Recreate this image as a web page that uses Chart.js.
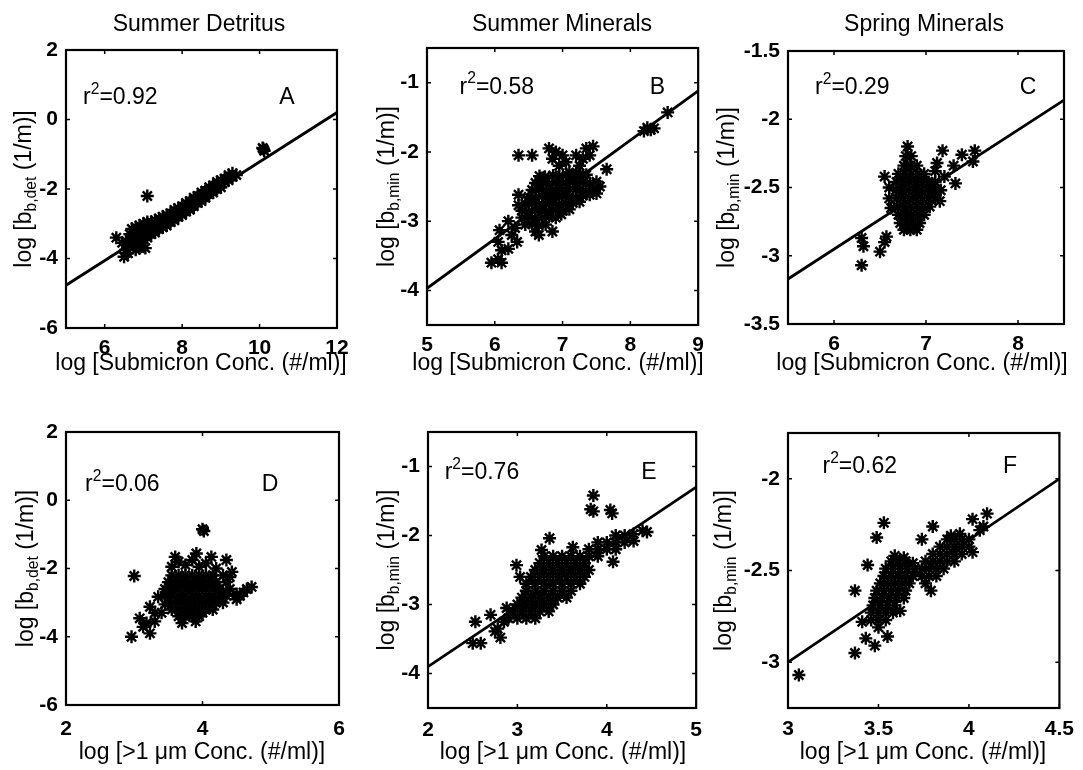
<!DOCTYPE html>
<html>
<head>
<meta charset="utf-8">
<script src="https://cdn.jsdelivr.net/npm/chart.js@4.4.1/dist/chart.umd.min.js"></script>
<style>
  body { margin: 0; background: #fff; }
  #wrap { position: relative; width: 1083px; height: 770px; background: #fff; }
  canvas { position: absolute; }
</style>
</head>
<body>
<div id="wrap">
  <canvas id="panelA" width="362" height="385" style="left:0;top:0"></canvas>
  <canvas id="panelB" width="350" height="385" style="left:362px;top:0"></canvas>
  <canvas id="panelC" width="383" height="385" style="left:700px;top:0"></canvas>
  <canvas id="panelD" width="362" height="385" style="left:0;top:385px"></canvas>
  <canvas id="panelE" width="350" height="385" style="left:362px;top:385px"></canvas>
  <canvas id="panelF" width="383" height="385" style="left:700px;top:385px"></canvas>
</div>
<script>
const FONT = '"Liberation Sans", Arial, Helvetica, sans-serif';

// column headings and axis titles
const columnTitles = ['Summer Detritus', 'Summer Minerals', 'Spring Minerals'];
const xTitleSub = 'log [Submicron Conc. (#/ml)]';
const xTitleBig = 'log [>1 \u03bcm Conc. (#/ml)]';
const ySubDet = 'b,det';
const ySubMin = 'b,min';
const r2Values = ['0.92', '0.58', '0.29', '0.06', '0.76', '0.62'];
const panelLetters = ['A', 'B', 'C', 'D', 'E', 'F'];

// tick values
const ticksAx = [6, 8, 10, 12],        ticksAy = [-6, -4, -2, 0, 2];
const ticksBx = [5, 6, 7, 8, 9],       ticksBy = [-4, -3, -2, -1];
const ticksCx = [6, 7, 8],             ticksCy = [-3.5, -3, -2.5, -2, -1.5];
const ticksDx = [2, 4, 6],             ticksDy = [-6, -4, -2, 0, 2];
const ticksEx = [2, 3, 4, 5],          ticksEy = [-4, -3, -2, -1];
const ticksFx = [3, 3.5, 4, 4.5],      ticksFy = [-3, -2.5, -2];

// summer detritus vs submicron conc.
const detSub = [
  [6.3,-3.4],[6.45,-3.55],[6.5,-3.95],[6.55,-3.75],[6.6,-3.85],[6.65,-3.3],[6.6,-3.6],[6.8,-3.75],
  [7.05,-3.7],[6.55,-3.5],[6.9,-3.7],
  [6.7,-3.15],[6.7,-3.4],[6.7,-3.6],[6.8,-3.1],[6.8,-3.3],[6.8,-3.55],[6.9,-3.05],[6.9,-3.25],
  [6.9,-3.5],[7.0,-3.0],[7.0,-3.2],[7.0,-3.45],[7.1,-2.95],[7.1,-3.15],[7.1,-3.4],[7.2,-2.95],
  [7.2,-3.1],[7.2,-3.3],[7.3,-2.9],[7.3,-3.05],[7.3,-3.25],[7.4,-2.85],[7.4,-3.0],[7.4,-3.15],
  [7.5,-2.8],[7.5,-2.95],[7.5,-3.1],[7.6,-2.75],[7.6,-2.9],[7.6,-3.05],[7.7,-2.7],[7.7,-2.85],
  [7.7,-2.95],[7.8,-2.6],[7.8,-2.75],[7.8,-2.9],[7.9,-2.55],[7.9,-2.7],[7.9,-2.8],[8.0,-2.5],
  [8.0,-2.6],[8.0,-2.75],[8.1,-2.4],[8.1,-2.55],[8.1,-2.65],[8.2,-2.35],[8.2,-2.45],[8.2,-2.6],
  [8.3,-2.25],[8.3,-2.4],[8.3,-2.5],[8.4,-2.2],[8.4,-2.3],[8.4,-2.4],[8.5,-2.1],[8.5,-2.2],
  [8.5,-2.35],[8.6,-2.05],[8.6,-2.15],[8.6,-2.25],[8.7,-1.95],[8.7,-2.05],[8.7,-2.15],[8.8,-1.9],
  [8.8,-2.0],[8.8,-2.1],[8.9,-1.8],[8.9,-1.9],[8.9,-2.0],[9.0,-1.75],[9.0,-1.85],[9.0,-1.95],
  [9.1,-1.7],[9.1,-1.8],[9.2,-1.6],[9.2,-1.75],[9.3,-1.55],[9.3,-1.65],[9.4,-1.6],
  [7.1,-2.2],[10.1,-0.85],[10.12,-0.9],[10.08,-0.82]
];
const fitDetSub = [[5, -4.77], [12, 0.2]];

// summer minerals vs submicron conc.
const minSub = [
  [6.35,-2.05],[6.55,-2.05],[6.8,-1.95],[6.85,-2.1],[6.9,-2.0],[7.0,-2.05],[6.95,-2.2],[7.05,-2.15],
  [7.1,-2.3],[7.35,-1.95],[7.45,-1.92],[7.4,-2.05],[7.3,-2.1],[7.65,-2.25],[7.2,-2.05],[7.25,-2.2],
  [8.2,-1.7],[8.25,-1.65],[8.3,-1.68],[8.35,-1.66],[8.55,-1.43],
  [5.95,-3.6],[6.05,-3.55],[6.1,-3.6],[6.1,-3.42],[6.05,-3.3],[6.07,-3.13],[6.2,-3.0],[6.25,-3.2],
  [6.2,-3.4],[6.33,-3.3],[6.35,-2.62],[6.35,-2.77],[6.3,-3.1],[6.65,-3.2],[6.85,-3.15],
  [6.66,-2.35],[6.74,-2.36],[6.86,-2.34],[6.95,-2.35],[7.06,-2.33],[7.15,-2.36],[7.26,-2.34],[7.35,-2.33],
  [6.6,-2.45],[6.71,-2.44],[6.8,-2.46],[6.9,-2.44],[7.0,-2.45],[7.1,-2.43],[7.2,-2.46],[7.3,-2.44],
  [7.4,-2.45],[7.5,-2.43],[6.55,-2.55],[6.66,-2.54],[6.75,-2.56],[6.85,-2.55],[6.94,-2.53],[7.05,-2.56],
  [7.15,-2.54],[7.25,-2.55],[7.34,-2.56],[7.45,-2.54],[7.55,-2.5],[6.5,-2.65],[6.6,-2.66],[6.7,-2.64],
  [6.81,-2.65],[6.9,-2.66],[7.0,-2.64],[7.1,-2.65],[7.2,-2.66],[7.3,-2.63],[7.4,-2.62],[6.45,-2.75],
  [6.55,-2.74],[6.65,-2.76],[6.76,-2.75],[6.85,-2.74],[6.95,-2.76],[7.05,-2.75],[7.15,-2.74],[7.25,-2.72],
  [6.4,-2.85],[6.5,-2.86],[6.6,-2.84],[6.7,-2.85],[6.8,-2.86],[6.9,-2.84],[7.0,-2.85],[7.1,-2.83],
  [6.4,-2.95],[6.5,-2.94],[6.6,-2.96],[6.7,-2.95],[6.8,-2.94],[6.9,-2.95],[6.45,-3.05],[6.55,-3.04],
  [6.65,-3.06],[6.75,-3.05],[6.6,-3.15],[6.7,-2.4],[7.2,-2.3],[7.5,-2.6],[6.98,-2.9]
];
const fitMinSub = [[5, -3.97], [9, -1.12]];

// spring minerals vs submicron conc.
const sprSub = [
  [6.3,-3.07],[6.3,-2.87],[6.32,-2.93],[6.5,-2.97],[6.55,-2.9],[6.57,-2.86],[6.55,-2.42],[6.6,-2.5],
  [6.6,-2.58],[6.62,-2.65],[6.8,-2.2],
  [7.18,-2.23],[7.39,-2.26],[7.53,-2.23],[7.51,-2.31],[7.3,-2.34],[7.12,-2.32],[7.1,-2.38],[7.32,-2.47],
  [7.15,-2.6],[7.2,-2.42],
  [6.78,-2.27],[6.84,-2.27],[6.76,-2.34],[6.83,-2.34],[6.9,-2.34],[6.7,-2.4],[6.77,-2.4],[6.84,-2.4],
  [6.91,-2.4],[6.98,-2.4],[6.68,-2.46],[6.75,-2.46],[6.82,-2.46],[6.89,-2.46],[6.96,-2.46],[7.03,-2.46],
  [7.1,-2.46],[6.67,-2.52],[6.74,-2.52],[6.81,-2.52],[6.88,-2.52],[6.95,-2.52],[7.02,-2.52],[7.09,-2.52],
  [7.16,-2.52],[6.68,-2.58],[6.75,-2.58],[6.82,-2.58],[6.89,-2.58],[6.96,-2.58],[7.03,-2.58],[7.1,-2.58],
  [6.69,-2.64],[6.76,-2.64],[6.83,-2.64],[6.9,-2.64],[6.97,-2.64],[7.04,-2.64],[6.7,-2.7],[6.77,-2.7],
  [6.84,-2.7],[6.91,-2.7],[6.98,-2.7],[6.72,-2.76],[6.79,-2.76],[6.86,-2.76],[6.93,-2.76],[6.76,-2.81],
  [6.83,-2.81],[6.9,-2.81]
];
const fitSprSub = [[5.5, -3.17], [8.5, -1.86]];

// summer detritus vs >1 um conc.
const detBig = [
  [4.0,-0.85],[4.02,-0.9],[3.0,-2.22],[2.96,-4.0],[3.13,-3.71],[3.23,-3.9],[3.08,-3.46],[3.23,-3.12],
  [3.18,-3.6],[3.3,-3.55],[3.35,-2.83],[3.4,-3.3],[3.3,-3.3],[3.45,-3.05],
  [3.6,-1.66],[3.75,-1.9],[3.91,-1.56],[3.85,-1.75],[4.13,-1.66],[4.05,-1.85],[4.35,-1.75],[4.43,-2.1],
  [4.4,-2.25],[4.72,-2.54],[4.6,-2.7],[4.65,-2.6],[4.5,-2.9],[4.55,-2.8],[3.55,-1.95],[3.65,-1.8],
  [3.95,-1.95],[4.2,-2.0],[3.7,-3.6],[3.9,-3.55],
  [3.55,-2.2],[3.65,-2.2],[3.75,-2.2],[3.85,-2.2],[3.95,-2.2],[4.05,-2.2],[4.15,-2.2],[4.3,-2.2],
  [3.5,-2.4],[3.6,-2.4],[3.7,-2.4],[3.8,-2.4],[3.9,-2.4],[4.0,-2.4],[4.1,-2.4],[4.2,-2.4],[4.35,-2.4],
  [3.45,-2.6],[3.55,-2.6],[3.65,-2.6],[3.75,-2.6],[3.85,-2.6],[3.95,-2.6],[4.05,-2.6],[4.15,-2.6],
  [4.25,-2.6],[4.4,-2.6],[3.45,-2.8],[3.55,-2.8],[3.65,-2.8],[3.75,-2.8],[3.85,-2.8],[3.95,-2.8],
  [4.05,-2.8],[4.15,-2.8],[4.25,-2.8],[4.35,-2.8],[4.5,-2.75],[3.5,-3.0],[3.6,-3.0],[3.7,-3.0],
  [3.8,-3.0],[3.9,-3.0],[4.0,-3.0],[4.1,-3.0],[4.2,-3.0],[4.3,-3.0],[3.55,-3.2],[3.65,-3.2],
  [3.75,-3.2],[3.85,-3.2],[3.95,-3.2],[4.05,-3.2],[4.15,-3.2],[3.65,-3.4],[3.75,-3.4],[3.85,-3.4],
  [3.95,-3.4],[3.6,-2.5],[3.8,-2.5],[4.0,-2.5],[4.2,-2.5],[3.7,-2.9],[3.9,-2.9],[4.1,-2.9],[3.8,-3.3],
  [4.0,-3.3],[3.5,-2.7],[4.3,-2.7]
];

// summer minerals vs >1 um conc.
const minBig = [
  [3.85,-1.42],[3.82,-1.62],[3.85,-1.65],[4.04,-1.63],[4.06,-1.68],
  [3.36,-2.04],[3.27,-2.21],[2.99,-2.43],[3.03,-2.6],[4.07,-2.38],[3.62,-2.17],
  [2.53,-3.25],[2.7,-3.15],[2.5,-3.56],[2.59,-3.56],[2.75,-3.39],[2.81,-3.48],[2.88,-3.05],[2.78,-3.35],
  [2.85,-3.25],
  [3.3,-2.3],[3.4,-2.3],[3.5,-2.3],[3.6,-2.3],[3.7,-2.3],[3.25,-2.4],[3.35,-2.4],[3.45,-2.4],
  [3.55,-2.4],[3.65,-2.4],[3.75,-2.4],[3.2,-2.5],[3.3,-2.5],[3.4,-2.5],[3.5,-2.5],[3.6,-2.5],
  [3.7,-2.5],[3.8,-2.5],[3.15,-2.6],[3.25,-2.6],[3.35,-2.6],[3.45,-2.6],[3.55,-2.6],[3.65,-2.6],
  [3.75,-2.6],[3.1,-2.7],[3.2,-2.7],[3.3,-2.7],[3.4,-2.7],[3.5,-2.7],[3.6,-2.7],[3.7,-2.7],
  [3.1,-2.8],[3.2,-2.8],[3.3,-2.8],[3.4,-2.8],[3.5,-2.8],[3.6,-2.8],[3.05,-2.9],[3.15,-2.9],
  [3.25,-2.9],[3.35,-2.9],[3.45,-2.9],[3.55,-2.9],[3.0,-3.0],[3.1,-3.0],[3.2,-3.0],[3.3,-3.0],
  [3.4,-3.0],[2.95,-3.1],[3.05,-3.1],[3.15,-3.1],[3.25,-3.1],[3.35,-3.1],[2.9,-3.2],[3.0,-3.2],
  [3.1,-3.2],[3.2,-3.2],
  [4.1,-2.0],[4.2,-2.0],[4.3,-1.98],[4.4,-1.93],[4.45,-1.95],[3.9,-2.1],[4.0,-2.1],[4.1,-2.1],
  [4.2,-2.1],[4.3,-2.08],[3.8,-2.2],[3.9,-2.2],[4.0,-2.2],[4.1,-2.2],[3.8,-2.3],[3.9,-2.3]
];
const fitMinBig = [[2, -3.9], [5, -1.3]];

// spring minerals vs >1 um conc.
const sprBig = [
  [3.06,-3.07],[3.37,-2.95],[3.48,-2.91],[3.43,-2.87],[3.55,-2.86],[3.53,-2.24],[3.49,-2.32],[3.44,-2.47],
  [3.37,-2.61],[3.8,-2.26],[3.74,-2.33],[4.02,-2.22],[4.1,-2.19],[4.08,-2.26],[4.06,-2.28],[3.41,-2.78],
  [3.79,-2.61],[3.62,-2.72],
  [3.59,-2.42],[3.64,-2.43],[3.57,-2.45],[3.61,-2.45],[3.65,-2.45],[3.69,-2.46],[3.54,-2.49],[3.58,-2.49],
  [3.62,-2.49],[3.66,-2.49],[3.7,-2.49],[3.53,-2.53],[3.57,-2.53],[3.61,-2.53],[3.65,-2.53],[3.69,-2.53],
  [3.51,-2.57],[3.55,-2.57],[3.59,-2.57],[3.63,-2.57],[3.67,-2.57],[3.49,-2.61],[3.53,-2.61],[3.57,-2.61],
  [3.61,-2.61],[3.65,-2.61],[3.48,-2.65],[3.52,-2.65],[3.56,-2.65],[3.6,-2.65],[3.64,-2.65],[3.47,-2.69],
  [3.51,-2.69],[3.55,-2.69],[3.59,-2.69],[3.46,-2.73],[3.5,-2.73],[3.54,-2.73],[3.58,-2.73],[3.46,-2.77],
  [3.5,-2.77],[3.54,-2.77],[3.5,-2.81],
  [3.9,-2.31],[3.95,-2.3],[3.88,-2.33],[3.92,-2.33],[3.96,-2.33],[4.0,-2.33],[3.84,-2.37],[3.88,-2.37],
  [3.92,-2.37],[3.96,-2.37],[4.0,-2.37],[4.02,-2.4],[3.8,-2.41],[3.84,-2.41],[3.88,-2.41],[3.92,-2.41],
  [3.96,-2.41],[3.76,-2.45],[3.8,-2.45],[3.84,-2.45],[3.88,-2.45],[3.92,-2.45],[3.74,-2.49],[3.78,-2.49],
  [3.82,-2.49],[3.86,-2.49],[3.74,-2.53],[3.78,-2.53],[3.82,-2.53],[3.76,-2.57]
];
const fitSprBig = [[3, -3.0], [4.5, -2.0]];

// draws a run of text pieces, some raised or lowered, centred on (x, y)
function drawRuns(ctx, runs, x, y, size, align) {
  const w = runs.map(r => {
    ctx.font = (r.s ? size * 0.68 : size) + 'px ' + FONT;
    return ctx.measureText(r.t).width;
  });
  const total = w.reduce((a, b) => a + b, 0);
  let cx = align === 'left' ? x : x - total / 2;
  runs.forEach((r, i) => {
    ctx.font = (r.s ? size * 0.68 : size) + 'px ' + FONT;
    const dy = r.s === 'sub' ? size * 0.3 : r.s === 'sup' ? -size * 0.38 : 0;
    ctx.fillText(r.t, cx, y + dy);
    cx += w[i];
  });
}

function panelText(p) {
  return {
    id: 'panelText',
    afterDraw(chart) {
      const { ctx, chartArea: a, scales } = chart;
      const xs = scales.x, ys = scales.y;
      ctx.save();
      ctx.fillStyle = '#000';
      ctx.strokeStyle = '#000';

      // frame
      ctx.lineWidth = 2.2;
      ctx.strokeRect(a.left, a.top, a.right - a.left, a.bottom - a.top);

      // inward tick marks on all four sides
      ctx.lineWidth = 1.5;
      ctx.beginPath();
      xs.ticks.forEach(t => {
        const px = xs.getPixelForValue(t.value);
        ctx.moveTo(px, a.bottom); ctx.lineTo(px, a.bottom - 4);
        ctx.moveTo(px, a.top); ctx.lineTo(px, a.top + 4);
      });
      ys.ticks.forEach(t => {
        const py = ys.getPixelForValue(t.value);
        ctx.moveTo(a.left, py); ctx.lineTo(a.left + 4, py);
        ctx.moveTo(a.right, py); ctx.lineTo(a.right - 4, py);
      });
      ctx.stroke();

      ctx.textBaseline = 'middle';
      ctx.textAlign = 'left';

      if (p.title) {
        drawRuns(ctx, [{ t: p.title }], p.titleX, 25, 23, 'center');
      }
      drawRuns(ctx, [{ t: p.xTitle }], p.xTitleX, p.xTitleY, 23, 'center');

      // rotated y title with subscript
      ctx.save();
      ctx.translate(p.yTitleX, (a.top + a.bottom) / 2);
      ctx.rotate(-Math.PI / 2);
      drawRuns(ctx, [{ t: 'log [b' }, { t: p.ySub, s: 'sub' }, { t: ' (1/m)]' }], 0, 0, 23, 'center');
      ctx.restore();

      // r^2 note and panel letter
      const w = a.right - a.left, h = a.bottom - a.top;
      drawRuns(ctx, [{ t: 'r' }, { t: '2', s: 'sup' }, { t: '=' + p.r2 }],
        a.left + p.rx * w, a.top + p.ry * h, 23, 'left');
      drawRuns(ctx, [{ t: p.letter }], a.left + p.lx * w, a.top + p.ry * h, 23, 'center');
      ctx.restore();
    }
  };
}

function makePanel(id, p) {
  const tickFont = { family: FONT, size: 21, weight: 'bold' };
  new Chart(document.getElementById(id), {
    type: 'scatter',
    data: {
      datasets: [
        {
          data: p.pts.map(([x, y]) => ({ x, y })),
          pointStyle: 'star',
          pointRadius: 6.5,
          borderColor: '#000',
          backgroundColor: '#000',
          borderWidth: 2.4
        },
        {
          data: (p.fit || []).map(([x, y]) => ({ x, y })),
          showLine: true,
          borderColor: '#000',
          borderWidth: 2.8,
          pointRadius: 0
        }
      ]
    },
    options: {
      responsive: false,
      animation: false,
      devicePixelRatio: 1,
      layout: { padding: { top: p.top, right: p.right, left: 0, bottom: 0 } },
      plugins: { legend: { display: false }, tooltip: { enabled: false } },
      scales: {
        x: {
          type: 'linear', min: p.xMin, max: p.xMax,
          grid: { display: false, drawTicks: false }, border: { display: false },
          ticks: { font: tickFont, color: '#000', padding: p.xPad, maxRotation: 0, autoSkip: false, callback: v => String(v) },
          afterBuildTicks: s => { s.ticks = p.xTicks.map(v => ({ value: v })); },
          afterFit: s => { s.height = p.xh; }
        },
        y: {
          type: 'linear', min: p.yMin, max: p.yMax,
          grid: { display: false, drawTicks: false }, border: { display: false },
          ticks: { font: tickFont, color: '#000', padding: 8, autoSkip: false, callback: v => String(v) },
          afterBuildTicks: s => { s.ticks = p.yTicks.map(v => ({ value: v })); },
          afterFit: s => { s.width = p.yw; }
        }
      }
    },
    plugins: [panelText(p)]
  });
}

makePanel('panelA', {
  pts: detSub, fit: fitDetSub, xMin: 5, xMax: 12, yMin: -6, yMax: 2, xTicks: ticksAx, yTicks: ticksAy,
  top: 50, right: 25, xh: 57, yw: 66, xPad: 8,
  title: columnTitles[0], titleX: 199, xTitle: xTitleSub, xTitleX: 201, xTitleY: 364,
  yTitleX: 25, ySub: ySubDet, r2: r2Values[0], letter: panelLetters[0], rx: 0.063, ry: 0.173, lx: 0.815
});
makePanel('panelB', {
  pts: minSub, fit: fitMinSub, xMin: 5, xMax: 9, yMin: -4.5, yMax: -0.5, xTicks: ticksBx, yTicks: ticksBy,
  top: 48, right: 11, xh: 60, yw: 65, xPad: 8,
  title: columnTitles[1], titleX: 200, xTitle: xTitleSub, xTitleX: 196, xTitleY: 364,
  yTitleX: 26, ySub: ySubMin, r2: r2Values[1], letter: panelLetters[1], rx: 0.12, ry: 0.144, lx: 0.85
});
makePanel('panelC', {
  pts: sprSub, fit: fitSprSub, xMin: 5.5, xMax: 8.5, yMin: -3.5, yMax: -1.5, xTicks: ticksCx, yTicks: ticksCy,
  top: 51, right: 19, xh: 61, yw: 88, xPad: 8,
  title: columnTitles[2], titleX: 224, xTitle: xTitleSub, xTitleX: 222, xTitleY: 364,
  yTitleX: 28, ySub: ySubMin, r2: r2Values[2], letter: panelLetters[2], rx: 0.098, ry: 0.136, lx: 0.87
});
makePanel('panelD', {
  pts: detBig, fit: null, xMin: 2, xMax: 6, yMin: -6, yMax: 2, xTicks: ticksDx, yTicks: ticksDy,
  top: 47, right: 23, xh: 65, yw: 66, xPad: 12,
  xTitle: xTitleBig, xTitleX: 202, xTitleY: 368,
  yTitleX: 27, ySub: ySubDet, r2: r2Values[3], letter: panelLetters[3], rx: 0.07, ry: 0.194, lx: 0.747
});
makePanel('panelE', {
  pts: minBig, fit: fitMinBig, xMin: 2, xMax: 5, yMin: -4.5, yMax: -0.5, xTicks: ticksEx, yTicks: ticksEy,
  top: 47, right: 11, xh: 62, yw: 66, xPad: 10,
  xTitle: xTitleBig, xTitleX: 201, xTitleY: 368,
  yTitleX: 26, ySub: ySubMin, r2: r2Values[4], letter: panelLetters[4], rx: 0.062, ry: 0.149, lx: 0.824
});
makePanel('panelF', {
  pts: sprBig, fit: fitSprBig, xMin: 3, xMax: 4.5, yMin: -3.25, yMax: -1.75, xTicks: ticksFx, yTicks: ticksFy,
  top: 48, right: 20, xh: 62, yw: 88, xPad: 9,
  xTitle: xTitleBig, xTitleX: 223, xTitleY: 368,
  yTitleX: 25, ySub: ySubMin, r2: r2Values[5], letter: panelLetters[5], rx: 0.127, ry: 0.124, lx: 0.818
});
</script>
</body>
</html>
